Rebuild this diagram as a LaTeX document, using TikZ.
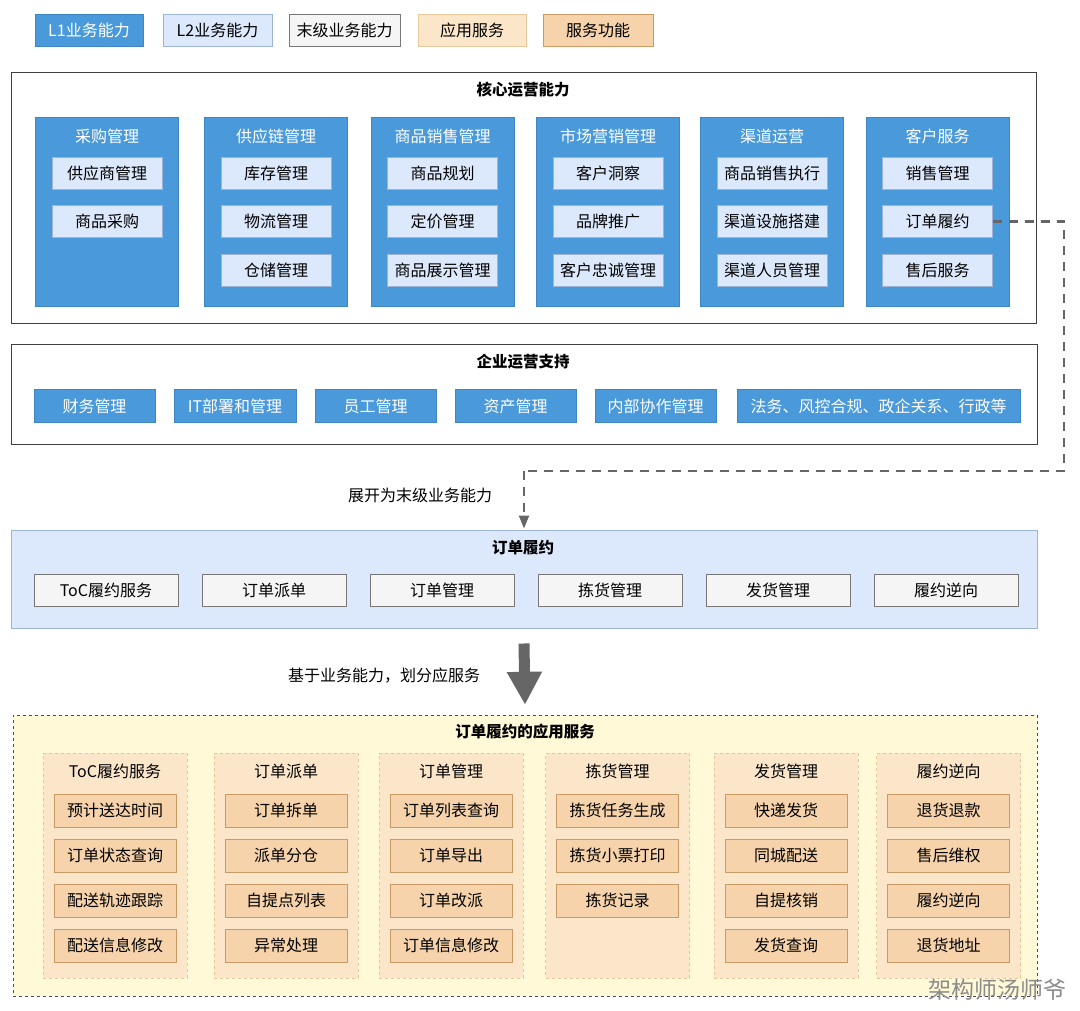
\documentclass[tikz,border=0pt]{standalone}
\usepackage{fontspec}
\setmainfont{Noto Sans CJK SC}
\usetikzlibrary{arrows.meta,positioning}
\definecolor{lone}{HTML}{4A99DB}
\definecolor{lonedraw}{HTML}{3F86C2}
\definecolor{ltwo}{HTML}{DCE8FB}
\definecolor{ltwodraw}{HTML}{9DB4D6}
\definecolor{leaf}{HTML}{F5F5F5}
\definecolor{leafdraw}{HTML}{777777}
\definecolor{appfill}{HTML}{FCE6CA}
\definecolor{appdraw}{HTML}{E6C89C}
\definecolor{funcfill}{HTML}{F6D3AA}
\definecolor{funcdraw}{HTML}{C99A63}
\definecolor{yellowbg}{HTML}{FFF9D8}
\definecolor{conn}{HTML}{666666}
\begin{document}
\begin{tikzpicture}[x=1pt, y=-1pt,
	every node/.style = {font=\fontsize{16}{19}\selectfont, inner sep=0pt, align=center},
	title/.style = {font=\fontsize{15.5}{18}\selectfont\bfseries},
	frame/.style = {draw=black!75, line width=1pt, fill=white},
	lonebox/.style = {draw=lonedraw, fill=lone, text=white, minimum height=32pt},
	ltwobox/.style = {draw=ltwodraw, fill=ltwo, minimum height=32pt},
	leafbox/.style = {draw=leafdraw, fill=leaf, minimum height=32pt},
	appbox/.style = {draw=appdraw, dashed, fill=appfill, minimum width=144pt, minimum height=225pt},
	funcbox/.style = {draw=funcdraw, fill=funcfill, minimum width=122pt, minimum height=33pt},
	flow/.style = {draw=conn, line width=2.6pt, dash pattern=on 9pt off 7pt},
	bigarrow/.style = {draw=conn, line width=11pt, -{Triangle[width=33pt,length=33pt]}}]
	\useasboundingbox (0,0) rectangle (1080,1011);

	% legend
	\node [lonebox, minimum width=108pt] (keyone) at (89,30) {L1业务能力};
	\node [ltwobox, minimum width=109pt] (keytwo) at (217.5,30) {L2业务能力};
	\node [leafbox, minimum width=111pt] (keyleaf) at (344.5,30) {末级业务能力};
	\node [draw=appdraw, fill=appfill, minimum width=108pt, minimum height=32pt] (keyapp) at (472,30) {应用服务};
	\node [funcbox, minimum width=110pt, minimum height=32pt] (keyfunc) at (598,30) {服务功能};

	% core capabilities
	\node [frame, minimum width=1025pt, minimum height=251pt] (core) at (523.5,198.5) {};
	\node [title] (coretitle) at (523,90) {核心运营能力};
	\foreach \x/\ttl/\items [count=\i] in {107/采购管理/{供应商管理,商品采购},
		276/供应链管理/{库存管理,物流管理,仓储管理},
		442.5/商品销售管理/{商品规划,定价管理,商品展示管理},
		608/市场营销管理/{客户洞察,品牌推广,客户忠诚管理},
		772/渠道运营/{商品销售执行,渠道设施搭建,渠道人员管理},
		937.5/客户服务/{销售管理,订单履约,售后服务}}{
	\node [lonebox, minimum width=143pt, minimum height=189pt] (col\i) at (\x,211.5) {};
	\node [text=white] (col\i t) at (\x,136) {\ttl};
	\foreach \s [count=\j] in \items {
	\node [ltwobox, minimum width=110pt] (col\i-\j) at (\x,{173+48.5*(\j-1)}) {\s};
	}
	}

	% enterprise support
	\node [frame, minimum width=1026pt, minimum height=99pt] (supp) at (524,394.5) {};
	\node [title] (supptitle) at (523,362) {企业运营支持};
	\foreach \x/\w/\s [count=\i] in {94.5/121/财务管理, 235/122/IT部署和管理, 375.5/121/员工管理,
		515.5/121/资产管理, 655.5/121/内部协作管理, 878.5/283/法务、风控合规、政企关系、行政等}{
	\node [lonebox, minimum width=\w pt, minimum height=33pt] (supp\i) at (\x,406) {\s};
	}

	% order fulfilment
	\node [draw=ltwodraw, line width=1pt, fill=ltwo, minimum width=1026pt, minimum height=98pt] (ful) at (524,579) {};
	\node [title] (fultitle) at (523,548) {订单履约};
	\foreach \s [count=\i] in {ToC履约服务,订单派单,订单管理,拣货管理,发货管理,履约逆向}{
	\node [leafbox, minimum width=144pt] (ful\i) at ({106+168*(\i-1)},590) {\s};
	}

	\coordinate (bend) at (1064,471);
	\draw [flow] (col6-2.east) -| (bend) -- (bend -| ful.north);
	\draw [draw=conn, line width=2pt, dash pattern=on 9pt off 7pt, -{Triangle[width=10pt,length=13pt]}] (bend -| ful.north) -- ([yshift=1pt]ful.north);
	\node (expand) at (420,495) {展开为末级业务能力};

	% application services
	\node [draw=black!70, dashed, fill=yellowbg, minimum width=1024pt, minimum height=281pt] (app) at (525,855.5) {};
	\node [title] (apptitle) at (525,732) {订单履约的应用服务};
	\draw [bigarrow] ([yshift=-15pt]ful.south) -- ([yshift=10pt]app.north);
	\node (split) at (384,676) {基于业务能力，划分应服务};

	\foreach \x/\ttl/\items [count=\i] in {115/ToC履约服务/{预计送达时间,订单状态查询,配送轨迹跟踪,配送信息修改},
		286/订单派单/{订单拆单,派单分仓,自提点列表,异常处理},
		451/订单管理/{订单列表查询,订单导出,订单改派,订单信息修改},
		617.5/拣货管理/{拣货任务生成,拣货小票打印,拣货记录},
		786/发货管理/{快递发货,同城配送,自提核销,发货查询},
		948.5/履约逆向/{退货退款,售后维权,履约逆向,退货地址}}{
	\node [appbox] (svc\i) at (\x,865.5) {};
	\node (svc\i t) at (\x,771) {\ttl};
	\foreach \s [count=\j] in \items {
	\node [funcbox] (svc\i-\j) at (\x,{810.5+45*(\j-1)}) {\s};
	}
	}

	\node [text=black!45, font=\fontsize{23}{26}\selectfont] (mark) at (997,990) {架构师汤师爷};
\end{tikzpicture}
\end{document}
